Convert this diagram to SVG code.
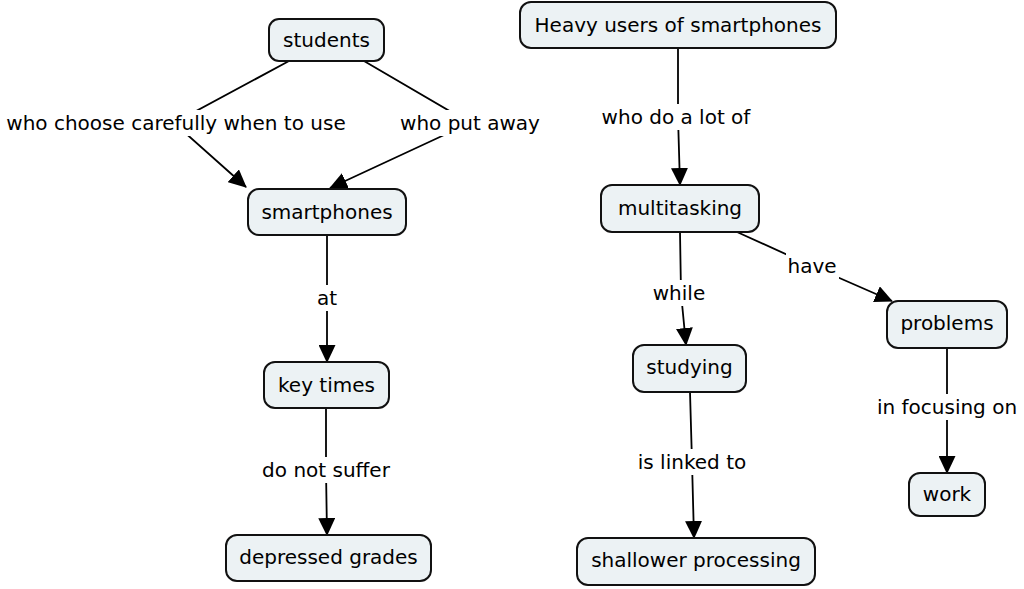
<svg xmlns="http://www.w3.org/2000/svg" width="1024" height="589" viewBox="0 0 1024 589">
  <style>
    .node rect { fill: #ecf2f4; stroke: #111; stroke-width: 2; }
    .node text, .label text { font-family: "DejaVu Sans", Verdana, sans-serif; font-size: 20px; fill: #000; text-anchor: middle; }
    .conn path { fill: none; stroke: #000; stroke-width: 1.8; marker-end: url(#arrow); }
    .label rect { fill: #ffffff; }
  </style>
  <defs>
    <marker id="arrow" markerUnits="userSpaceOnUse" markerWidth="18" markerHeight="17" viewBox="0 0 18 17" refX="17" refY="8.5" orient="auto">
      <path d="M0,0 L18,8.5 L0,17 z" fill="#000"/>
    </marker>
  </defs>
  <rect width="1024" height="589" fill="#ffffff"/>

  <g id="connectors" class="conn">
    <path d="M289,61 L174,123 L246,187"/>
    <path d="M364,61 L470,123 L330,188"/>
    <path d="M327,235 L327,298 L327,362"/>
    <path d="M326,408 L326,470 L327,535"/>
    <path d="M678,48 L678,117 L680,185"/>
    <path d="M680,232 L681,293 L686,345"/>
    <path d="M737,232 L812,266 L892,301"/>
    <path d="M690,392 L692,462 L694,538"/>
    <path d="M947,348 L947,407 L947,473"/>
  </g>

  <g id="labels">
    <g id="label-choose" class="label"><rect x="4" y="110" width="344" height="26"/><text x="176" y="130">who choose carefully when to use</text></g>
    <g id="label-putaway" class="label"><rect x="398" y="110" width="144" height="26"/><text x="470" y="130">who put away</text></g>
    <g id="label-at" class="label"><rect x="315" y="285" width="24" height="26"/><text x="327" y="305">at</text></g>
    <g id="label-suffer" class="label"><rect x="260" y="457" width="132" height="26"/><text x="326" y="477">do not suffer</text></g>
    <g id="label-lotof" class="label"><rect x="600" y="104" width="152" height="26"/><text x="676" y="124">who do a lot of</text></g>
    <g id="label-while" class="label"><rect x="651" y="280" width="56" height="26"/><text x="679" y="300">while</text></g>
    <g id="label-have" class="label"><rect x="786" y="253" width="53" height="26"/><text x="812" y="273">have</text></g>
    <g id="label-linked" class="label"><rect x="636" y="449" width="113" height="26"/><text x="692" y="469">is linked to</text></g>
    <g id="label-focusing" class="label"><rect x="876" y="394" width="143" height="26"/><text x="947" y="414">in focusing on</text></g>
  </g>

  <g id="node-students" class="node"><rect x="269" y="19" width="115" height="42" rx="10"/><text x="326.5" y="47">students</text></g>
  <g id="node-heavy" class="node"><rect x="520" y="2" width="316" height="46" rx="11"/><text x="678" y="32">Heavy users of smartphones</text></g>
  <g id="node-smartphones" class="node"><rect x="248" y="189" width="158" height="46" rx="11"/><text x="327" y="219">smartphones</text></g>
  <g id="node-multitasking" class="node"><rect x="601" y="185" width="158" height="47" rx="11"/><text x="680" y="215">multitasking</text></g>
  <g id="node-keytimes" class="node"><rect x="264" y="362" width="125" height="46" rx="11"/><text x="326.5" y="392">key times</text></g>
  <g id="node-studying" class="node"><rect x="633" y="345" width="113" height="47" rx="11"/><text x="689.5" y="374">studying</text></g>
  <g id="node-problems" class="node"><rect x="887" y="301" width="120" height="47" rx="11"/><text x="947" y="330">problems</text></g>
  <g id="node-work" class="node"><rect x="909" y="473" width="76" height="43" rx="11"/><text x="947" y="501">work</text></g>
  <g id="node-depressed" class="node"><rect x="226" y="535" width="205" height="46" rx="11"/><text x="328.5" y="564">depressed grades</text></g>
  <g id="node-shallower" class="node"><rect x="577" y="538" width="238" height="47" rx="11"/><text x="696" y="567">shallower processing</text></g>
</svg>
